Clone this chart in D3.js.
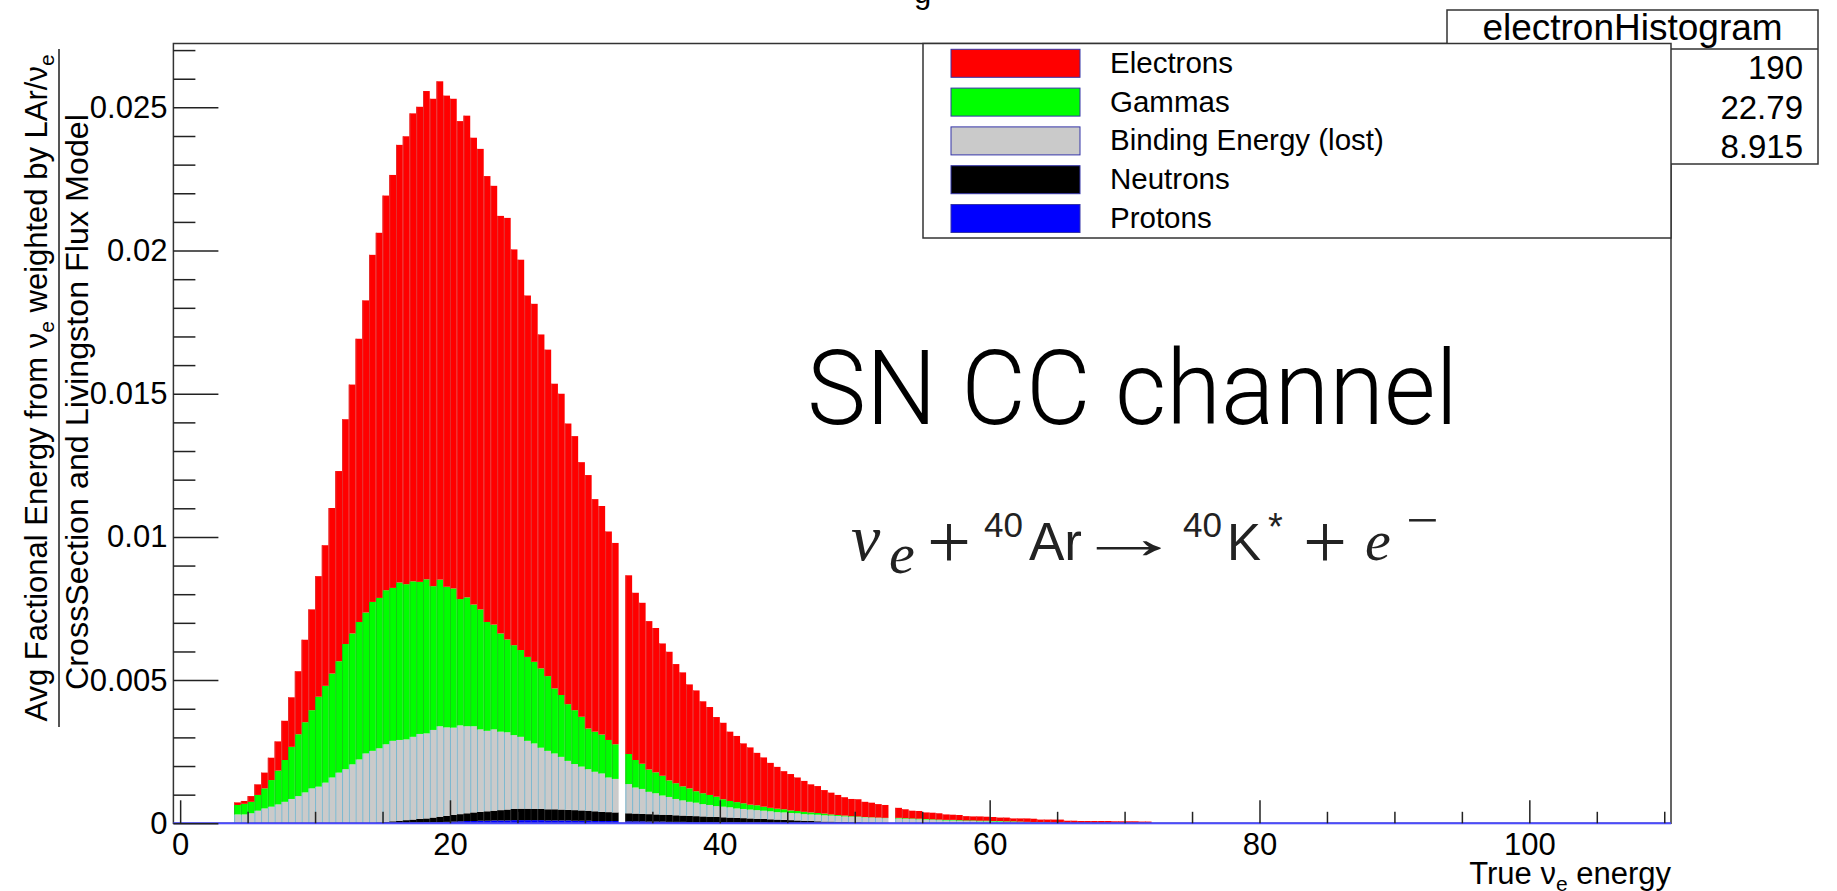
<!DOCTYPE html>
<html>
<head>
<meta charset="utf-8">
<script src="https://cdnjs.cloudflare.com/ajax/libs/d3/7.8.5/d3.min.js"></script>
<style>
  body { margin: 0; background: #fff; }
</style>
</head>
<body>
<div id="chart"></div>
<script>
// histogram bins: lower edges, 0.5 wide, first filled bin starts at 4
var binWidth = 0.5;
var binLow = d3.range(4, 72, binWidth);

// contribution of each component per bin, in units of 1e-5
var unit = 1e-5;

var protons = [
    0, 0, 0, 0, 0, 0, 0, 0, 0, 0,
    0, 0, 0, 0, 0, 0, 0, 0, 0, 0,
    0, 0, 0, 0, 0, 0, 2, 2, 3, 3,
    4, 5, 6, 7, 8, 8, 9, 9, 10, 10,
    10, 11, 11, 11, 11, 11, 10, 10, 10, 10,
    9, 9, 9, 8, 8, 8, 8, 0, 7, 7,
    7, 6, 6, 6, 5, 5, 5, 4, 4, 4,
    4, 3, 3, 3, 3, 2, 2, 2, 2, 1,
    1, 1, 1, 0, 0, 0, 0, 0, 0, 0,
    0, 0, 0, 0, 0, 0, 0, 0, 0, 0,
    0, 0, 0, 0, 0, 0, 0, 0, 0, 0,
    0, 0, 0, 0, 0, 0, 0, 0, 0, 0,
    0, 0, 0, 0, 0, 0, 0, 0, 0, 0,
    0, 0, 0, 0, 0, 0
];

var neutrons = [
    0, 0, 0, 0, 0, 0, 0, 0, 0, 0,
    0, 0, 0, 0, 0, 0, 0, 0, 0, 0,
    0, 3, 5, 7, 9, 11, 11, 13, 14, 17,
    19, 21, 23, 25, 27, 30, 31, 33, 34, 36,
    38, 39, 40, 40, 39, 39, 39, 39, 38, 37,
    37, 36, 35, 34, 32, 31, 30, 0, 28, 27,
    26, 26, 25, 24, 24, 23, 22, 22, 21, 20,
    19, 19, 18, 17, 16, 16, 15, 14, 13, 13,
    12, 11, 10, 10, 9, 8, 7, 6, 6, 5,
    5, 4, 4, 3, 3, 2, 2, 0, 1, 1,
    0, 0, 0, 0, 0, 0, 0, 0, 0, 0,
    0, 0, 0, 0, 0, 0, 0, 0, 0, 0,
    0, 0, 0, 0, 0, 0, 0, 0, 0, 0,
    0, 0, 0, 0, 0, 0
];

var binding = [
    31, 31, 35, 44, 52, 58, 66, 75, 85, 95,
    108, 122, 128, 142, 160, 177, 189, 206, 223, 244,
    253, 259, 271, 281, 282, 282, 289, 297, 297, 306,
    316, 309, 305, 310, 304, 301, 288, 281, 284, 274,
    270, 258, 251, 237, 229, 214, 204, 195, 184, 171,
    161, 153, 145, 138, 134, 121, 117, 0, 102, 91,
    87, 78, 74, 67, 63, 57, 53, 49, 47, 43,
    41, 38, 37, 36, 33, 32, 31, 30, 29, 28,
    26, 26, 25, 25, 23, 23, 23, 22, 21, 21,
    19, 19, 18, 18, 17, 17, 16, 0, 16, 15,
    15, 14, 13, 12, 11, 10, 10, 9, 8, 8,
    7, 7, 6, 6, 5, 5, 4, 4, 3, 3,
    2, 2, 1, 1, 0, 0, 0, 0, 0, 0,
    0, 0, 0, 0, 0, 0
];

var gammas = [
    33, 37, 40, 55, 70, 93, 118, 146, 182, 216,
    245, 273, 314, 338, 363, 389, 437, 457, 480, 492,
    520, 525, 538, 534, 550, 542, 543, 531, 538, 502,
    512, 491, 486, 441, 450, 425, 419, 380, 366, 343,
    324, 314, 303, 293, 285, 277, 261, 227, 216, 198,
    188, 174, 142, 140, 136, 131, 121, 0, 105, 96,
    88, 78, 73, 69, 58, 55, 49, 47, 40, 38,
    35, 33, 26, 22, 22, 20, 17, 17, 14, 12,
    12, 11, 9, 8, 8, 7, 6, 6, 4, 3,
    3, 2, 2, 1, 1, 1, 1, 0, 2, 2,
    2, 2, 2, 2, 2, 2, 2, 2, 2, 2,
    2, 2, 2, 2, 2, 2, 2, 1, 1, 1,
    1, 0, 1, 0, 0, 0, 0, 0, 0, 0,
    0, 0, 0, 0, 0, 0
];

var electrons = [
    9, 10, 20, 37, 55, 78, 102, 137, 173, 220,
    288, 352, 421, 491, 578, 664, 785, 869, 989, 1090,
    1212, 1275, 1378, 1442, 1528, 1564, 1634, 1659, 1705, 1702,
    1740, 1715, 1710, 1669, 1682, 1630, 1608, 1557, 1532, 1458,
    1472, 1382, 1363, 1262, 1250, 1166, 1140, 1064, 1052, 980,
    957, 889, 885, 812, 798, 728, 703, 0, 624, 584,
    562, 518, 504, 462, 449, 416, 398, 363, 352, 321,
    307, 278, 267, 242, 231, 209, 200, 183, 172, 157,
    146, 133, 127, 117, 108, 98, 94, 82, 76, 70,
    64, 60, 60, 53, 51, 47, 45, 0, 35, 31,
    27, 27, 23, 23, 22, 19, 18, 18, 15, 14,
    15, 14, 14, 12, 13, 10, 11, 12, 12, 9,
    10, 11, 11, 8, 9, 8, 8, 8, 8, 8,
    7, 7, 7, 7, 6, 6
];

// legend entries (top to bottom) and stats box
var legendKeys = ["electrons", "gammas", "binding", "neutrons", "protons"];
var legendLabels = ["Electrons", "Gammas", "Binding Energy (lost)", "Neutrons", "Protons"];
var statsTitle = "electronHistogram";
var statsValues = ["190", "22.79", "8.915"];

// axis ticks
var yMax = 0.02723;
var yMajor = [0, 0.005, 0.01, 0.015, 0.02, 0.025];
var xMajor = [0, 20, 40, 60, 80, 100];

var colors = {
    protons: "#0000ff",
    neutrons: "#000000",
    binding: "#cacaca",
    gammas: "#00ff00",
    electrons: "#ff0000"
};
var edgeColors = {
    protons: "#2a2ad0",
    neutrons: "#101010",
    binding: "#7ab8d0",
    gammas: "#18c818",
    electrons: "#e43030"
};

var svgWidth = 1837;
var svgHeight = 891;
var frame = { left: 173.4, right: 1671, top: 43.5, bottom: 823.3 };
var sans = "'Liberation Sans', Arial, Helvetica, sans-serif";
var serif = "'Liberation Serif', 'Times New Roman', serif";

var svg = d3.select("#chart")
    .append("svg")
    .attr("width", svgWidth)
    .attr("height", svgHeight)
    .style("font-family", sans);

svg.append("rect")
    .attr("width", svgWidth)
    .attr("height", svgHeight)
    .attr("fill", "#fff");

var xScale = d3.scaleLinear()
    .domain([-0.5, 110.5])
    .range([frame.left, frame.right]);

var yScale = d3.scaleLinear()
    .domain([0, yMax])
    .range([frame.bottom, frame.top]);

// stack the five components
var keys = ["protons", "neutrons", "binding", "gammas", "electrons"];
var series = { protons: protons, neutrons: neutrons, binding: binding, gammas: gammas, electrons: electrons };
var table = binLow.map(function(low, i) {
    var row = { low: low };
    keys.forEach(function(k) { row[k] = series[k][i] * unit; });
    return row;
});
var stacked = d3.stack().keys(keys)(table);

var barGroup = svg.append("g");

var layers = barGroup.selectAll("g.layer")
    .data(stacked)
    .enter()
    .append("g")
    .attr("class", "layer");

layers.selectAll("rect")
    .data(d => d.filter(p => p[1] > p[0]).map(p => ({ p: p, key: d.key })))
    .enter()
    .append("rect")
    .attr("x", d => xScale(d.p.data.low))
    .attr("width", d => xScale(d.p.data.low + binWidth) - xScale(d.p.data.low))
    .attr("y", d => yScale(d.p[1]))
    .attr("height", d => yScale(d.p[0]) - yScale(d.p[1]))
    .attr("fill", d => colors[d.key]);

// thin bin separators like the ROOT bar outlines
layers.selectAll("line")
    .data(d => d.filter(p => p[1] > p[0]).map(p => ({ p: p, key: d.key })))
    .enter()
    .append("line")
    .attr("x1", d => xScale(d.p.data.low) + 0.5)
    .attr("x2", d => xScale(d.p.data.low) + 0.5)
    .attr("y1", d => yScale(d.p[1]))
    .attr("y2", d => yScale(d.p[0]))
    .attr("stroke", d => edgeColors[d.key])
    .attr("stroke-width", 1);

// frame
svg.append("rect")
    .attr("x", frame.left)
    .attr("y", frame.top)
    .attr("width", frame.right - frame.left)
    .attr("height", frame.bottom - frame.top)
    .attr("fill", "none")
    .attr("stroke", "#333")
    .attr("stroke-width", 1.5);

// baseline drawn by the histograms
svg.append("line")
    .attr("x1", frame.left)
    .attr("x2", frame.right)
    .attr("y1", yScale(0))
    .attr("y2", yScale(0))
    .attr("stroke", "#4b4bff")
    .attr("stroke-width", 2);

// y axis: ticks point inward
var yMinor = d3.range(0.001, yMax, 0.001).filter(v => Math.abs(v / 0.005 - Math.round(v / 0.005)) > 1e-6);

function styleTicks(g) {
    g.select(".domain").remove();
    g.selectAll("line").attr("stroke", "#222").attr("stroke-width", 1.5);
}

svg.append("g")
    .attr("transform", `translate(${frame.left}, 0)`)
    .call(d3.axisRight(yScale).tickValues(yMajor).tickSize(45).tickFormat(""))
    .call(styleTicks);

svg.append("g")
    .attr("transform", `translate(${frame.left}, 0)`)
    .call(d3.axisRight(yScale).tickValues(yMinor).tickSize(22).tickFormat(""))
    .call(styleTicks);

var yLabels = svg.append("g")
    .attr("transform", `translate(${frame.left}, 0)`)
    .call(d3.axisLeft(yScale).tickValues(yMajor).tickSize(0).tickPadding(6)
        .tickFormat(d => d === 0 ? "0" : String(+d.toFixed(3))));
yLabels.select(".domain").remove();
yLabels.selectAll("text")
    .attr("font-family", sans)
    .attr("font-size", 31)
    .attr("fill", "#000");

// x axis
var xMinor = d3.range(5, 111, 5).filter(v => v % 20 !== 0);

svg.append("g")
    .attr("transform", `translate(0, ${frame.bottom})`)
    .call(d3.axisTop(xScale).tickValues(xMajor).tickSize(23).tickFormat(""))
    .call(styleTicks);

svg.append("g")
    .attr("transform", `translate(0, ${frame.bottom})`)
    .call(d3.axisTop(xScale).tickValues(xMinor).tickSize(11.5).tickFormat(""))
    .call(styleTicks);

var xLabels = svg.append("g")
    .attr("transform", `translate(0, ${frame.bottom})`)
    .call(d3.axisBottom(xScale).tickValues(xMajor).tickSize(0).tickPadding(10));
xLabels.select(".domain").remove();
xLabels.selectAll("text")
    .attr("font-family", sans)
    .attr("font-size", 31)
    .attr("fill", "#000");

// x title
var xTitle = svg.append("text")
    .attr("x", frame.right)
    .attr("y", 884)
    .attr("text-anchor", "end")
    .attr("font-size", 31);
xTitle.append("tspan").text("True ν");
xTitle.append("tspan").attr("dy", 7).attr("font-size", 21).text("e");
xTitle.append("tspan").attr("dy", -7).text(" energy");

// y title as a fraction
var num = svg.append("text")
    .attr("transform", "translate(47, 388) rotate(-90)")
    .attr("text-anchor", "middle")
    .attr("font-size", 31);
num.append("tspan").text("Avg Factional Energy from ν");
num.append("tspan").attr("dy", 7).attr("font-size", 21).text("e");
num.append("tspan").attr("dy", -7).text(" weighted by LAr/ν");
num.append("tspan").attr("dy", 7).attr("font-size", 21).text("e");

svg.append("line")
    .attr("x1", 59).attr("x2", 59)
    .attr("y1", 49).attr("y2", 727)
    .attr("stroke", "#555")
    .attr("stroke-width", 2);

svg.append("text")
    .attr("transform", "translate(88, 402) rotate(-90)")
    .attr("text-anchor", "middle")
    .attr("font-size", 31)
    .attr("textLength", 576)
    .attr("lengthAdjust", "spacingAndGlyphs")
    .text("CrossSection and Livingston Flux Model");

// clipped title descender at the very top
svg.append("text")
    .attr("x", 914)
    .attr("y", 3)
    .attr("font-size", 31)
    .text("g");

// stats box (partly hidden by the legend)
var stats = { left: 1447, right: 1818, top: 10, split: 49, bottom: 164 };
svg.append("rect")
    .attr("x", stats.left)
    .attr("y", stats.top)
    .attr("width", stats.right - stats.left)
    .attr("height", stats.bottom - stats.top)
    .attr("fill", "#fff")
    .attr("stroke", "#333")
    .attr("stroke-width", 1.5);
svg.append("line")
    .attr("x1", stats.left).attr("x2", stats.right)
    .attr("y1", stats.split).attr("y2", stats.split)
    .attr("stroke", "#333")
    .attr("stroke-width", 1.5);
svg.append("text")
    .attr("x", (stats.left + stats.right) / 2)
    .attr("y", 40)
    .attr("text-anchor", "middle")
    .attr("font-size", 37)
    .text(statsTitle);
svg.selectAll("text.stat")
    .data(statsValues)
    .enter()
    .append("text")
    .attr("class", "stat")
    .attr("x", 1803)
    .attr("y", (d, i) => 79 + i * 39.5)
    .attr("text-anchor", "end")
    .attr("font-size", 33)
    .text(d => d);

// legend box
var legend = { left: 923, right: 1671, top: 43.5, bottom: 238 };
svg.append("rect")
    .attr("x", legend.left)
    .attr("y", legend.top)
    .attr("width", legend.right - legend.left)
    .attr("height", legend.bottom - legend.top)
    .attr("fill", "#fff")
    .attr("stroke", "#333")
    .attr("stroke-width", 1.5);

var entries = svg.selectAll("g.entry")
    .data(legendKeys)
    .enter()
    .append("g")
    .attr("class", "entry")
    .attr("transform", (d, i) => `translate(0, ${63.3 + i * 38.8})`);

entries.append("rect")
    .attr("x", 951)
    .attr("y", -14)
    .attr("width", 129)
    .attr("height", 28)
    .attr("fill", d => colors[d])
    .attr("stroke", "#3535a8")
    .attr("stroke-width", 1);

entries.append("text")
    .attr("x", 1110)
    .attr("y", 9.5)
    .attr("font-size", 29.5)
    .text((d, i) => legendLabels[i]);

// annotations
svg.append("text")
    .attr("x", 807)
    .attr("y", 424)
    .attr("font-family", "Roboto, Lato, 'Open Sans', sans-serif")
    .attr("font-weight", 300)
    .attr("font-size", 104)
    .attr("textLength", 651)
    .attr("lengthAdjust", "spacingAndGlyphs")
    .text("SN CC channel");

// reaction formula, one piece per glyph group (sx = horizontal stretch)
var eqParts = [
    { t: "ν", x: 851, y: 560, s: 66, f: serif, i: true, sx: 1 },
    { t: "e", x: 889, y: 573, s: 58, f: serif, i: true, sx: 1 },
    { t: "+", x: 927, y: 568, s: 78, f: serif, i: false, sx: 1 },
    { t: "40", x: 984, y: 537, s: 35, f: sans, i: false, sx: 1 },
    { t: "Ar", x: 1029, y: 560, s: 53, f: sans, i: false, sx: 1 },
    { t: "→", x: 1075, y: 558, s: 60, f: serif, i: false, sx: 1.8 },
    { t: "40", x: 1183, y: 537, s: 35, f: sans, i: false, sx: 1 },
    { t: "K", x: 1227, y: 560, s: 51, f: sans, i: false, sx: 1 },
    { t: "*", x: 1268, y: 540, s: 38, f: sans, i: false, sx: 1 },
    { t: "+", x: 1303, y: 568, s: 78, f: serif, i: false, sx: 1 },
    { t: "e", x: 1365, y: 560, s: 58, f: serif, i: true, sx: 1 },
    { t: "−", x: 1406, y: 537, s: 50, f: serif, i: false, sx: 1.15 }
];

svg.append("g")
    .selectAll("text")
    .data(eqParts)
    .enter()
    .append("text")
    .attr("transform", d => `translate(${d.x}, ${d.y}) scale(${d.sx}, 1)`)
    .attr("font-family", d => d.f)
    .attr("font-style", d => d.i ? "italic" : "normal")
    .attr("font-size", d => d.s)
    .attr("fill", "#222")
    .text(d => d.t);
</script>
</body>
</html>
